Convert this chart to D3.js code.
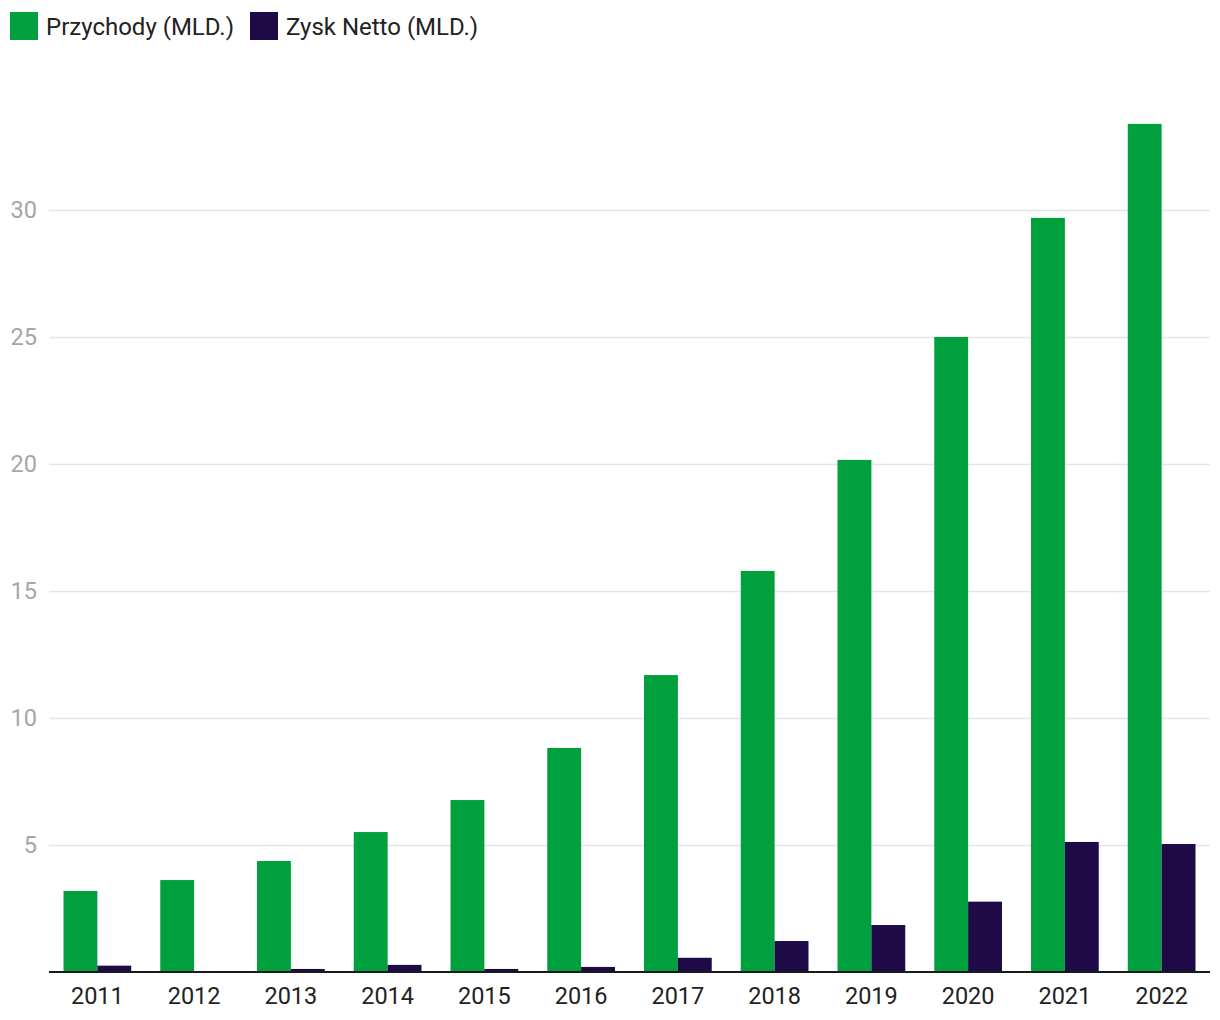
<!DOCTYPE html>
<html>
<head>
<meta charset="utf-8">
<script src="https://cdn.jsdelivr.net/npm/d3@7"></script>
<style>
  html, body { margin: 0; padding: 0; background: #fff; }
  svg { display: block; font-family: Roboto, "Noto Sans", sans-serif; }
</style>
</head>
<body>
<svg id="chart" width="1220" height="1020"></svg>
<script>
const categories = ["2011","2012","2013","2014","2015","2016","2017","2018","2019","2020","2021","2022"];
const seriesNames = ["Przychody (MLD.)", "Zysk Netto (MLD.)"];
const revenue = [3.19, 3.62, 4.37, 5.51, 6.77, 8.82, 11.69, 15.79, 20.16, 25.0, 29.69, 33.39];
const netProfit = [0.25, 0.0, 0.12, 0.28, 0.12, 0.2, 0.56, 1.22, 1.85, 2.77, 5.12, 5.04];
const yTicks = [5, 10, 15, 20, 25, 30];
const colors = ["#00a03e", "#1e0a47"];

const svg = d3.select("#chart");
const plotLeft = 49, plotRight = 1210, plotTop = 83, plotBottom = 972;

const x0 = d3.scaleBand().domain(categories).range([plotLeft, plotRight]).paddingInner(0.3).paddingOuter(0.15);
const x1 = d3.scaleBand().domain([0, 1]).range([0, x0.bandwidth()]);
const y = d3.scaleLinear().domain([0, 35]).range([plotBottom, plotTop]);

// gridlines
const grid = svg.append("g").attr("transform", `translate(${plotLeft},0)`)
  .call(d3.axisLeft(y).tickValues(yTicks).tickSize(-(plotRight - plotLeft)).tickFormat(""));
grid.select(".domain").remove();
grid.selectAll("line").attr("stroke", "#e5e5e5").attr("stroke-width", 1.5);

// y labels
const yAxis = svg.append("g").attr("transform", `translate(${plotLeft},0)`)
  .call(d3.axisLeft(y).tickValues(yTicks).tickSize(0).tickPadding(12));
yAxis.select(".domain").remove();
yAxis.selectAll("text").attr("fill", "#a6a6a6").style("font-size", "23.5px").style("font-family", "Roboto");

// bars
const data = categories.map((c, i) => ({ c, vals: [revenue[i], netProfit[i]] }));
const groups = svg.append("g").selectAll("g").data(data).join("g")
  .attr("transform", d => `translate(${x0(d.c)},0)`);
groups.selectAll("rect").data(d => d.vals.map((v, k) => ({ v, k }))).join("rect")
  .attr("x", d => x1(d.k))
  .attr("width", x1.bandwidth())
  .attr("y", d => y(d.v))
  .attr("height", d => y(0) - y(d.v))
  .attr("fill", d => colors[d.k]);

// x axis
const xAxis = svg.append("g").attr("transform", `translate(0,${plotBottom})`)
  .call(d3.axisBottom(x0).tickSize(0).tickPadding(15));
xAxis.select(".domain").attr("stroke", "#1a1a1a").attr("stroke-width", 2)
  .attr("d", `M${plotLeft},0H${plotRight}`);
xAxis.selectAll("text").attr("fill", "#222").style("font-size", "23.5px").style("font-family", "Roboto");

// legend
const legendX = [10, 250];
const legend = svg.append("g").selectAll("g").data(seriesNames).join("g")
  .attr("transform", (d, i) => `translate(${legendX[i]},12)`);
legend.append("rect").attr("width", 28).attr("height", 28).attr("fill", (d, i) => colors[i]);
legend.append("text").attr("x", 36).attr("y", 23).text(d => d)
  .attr("fill", "#222").style("font-size", "24px").style("font-family", "Roboto");
</script>
</body>
</html>
